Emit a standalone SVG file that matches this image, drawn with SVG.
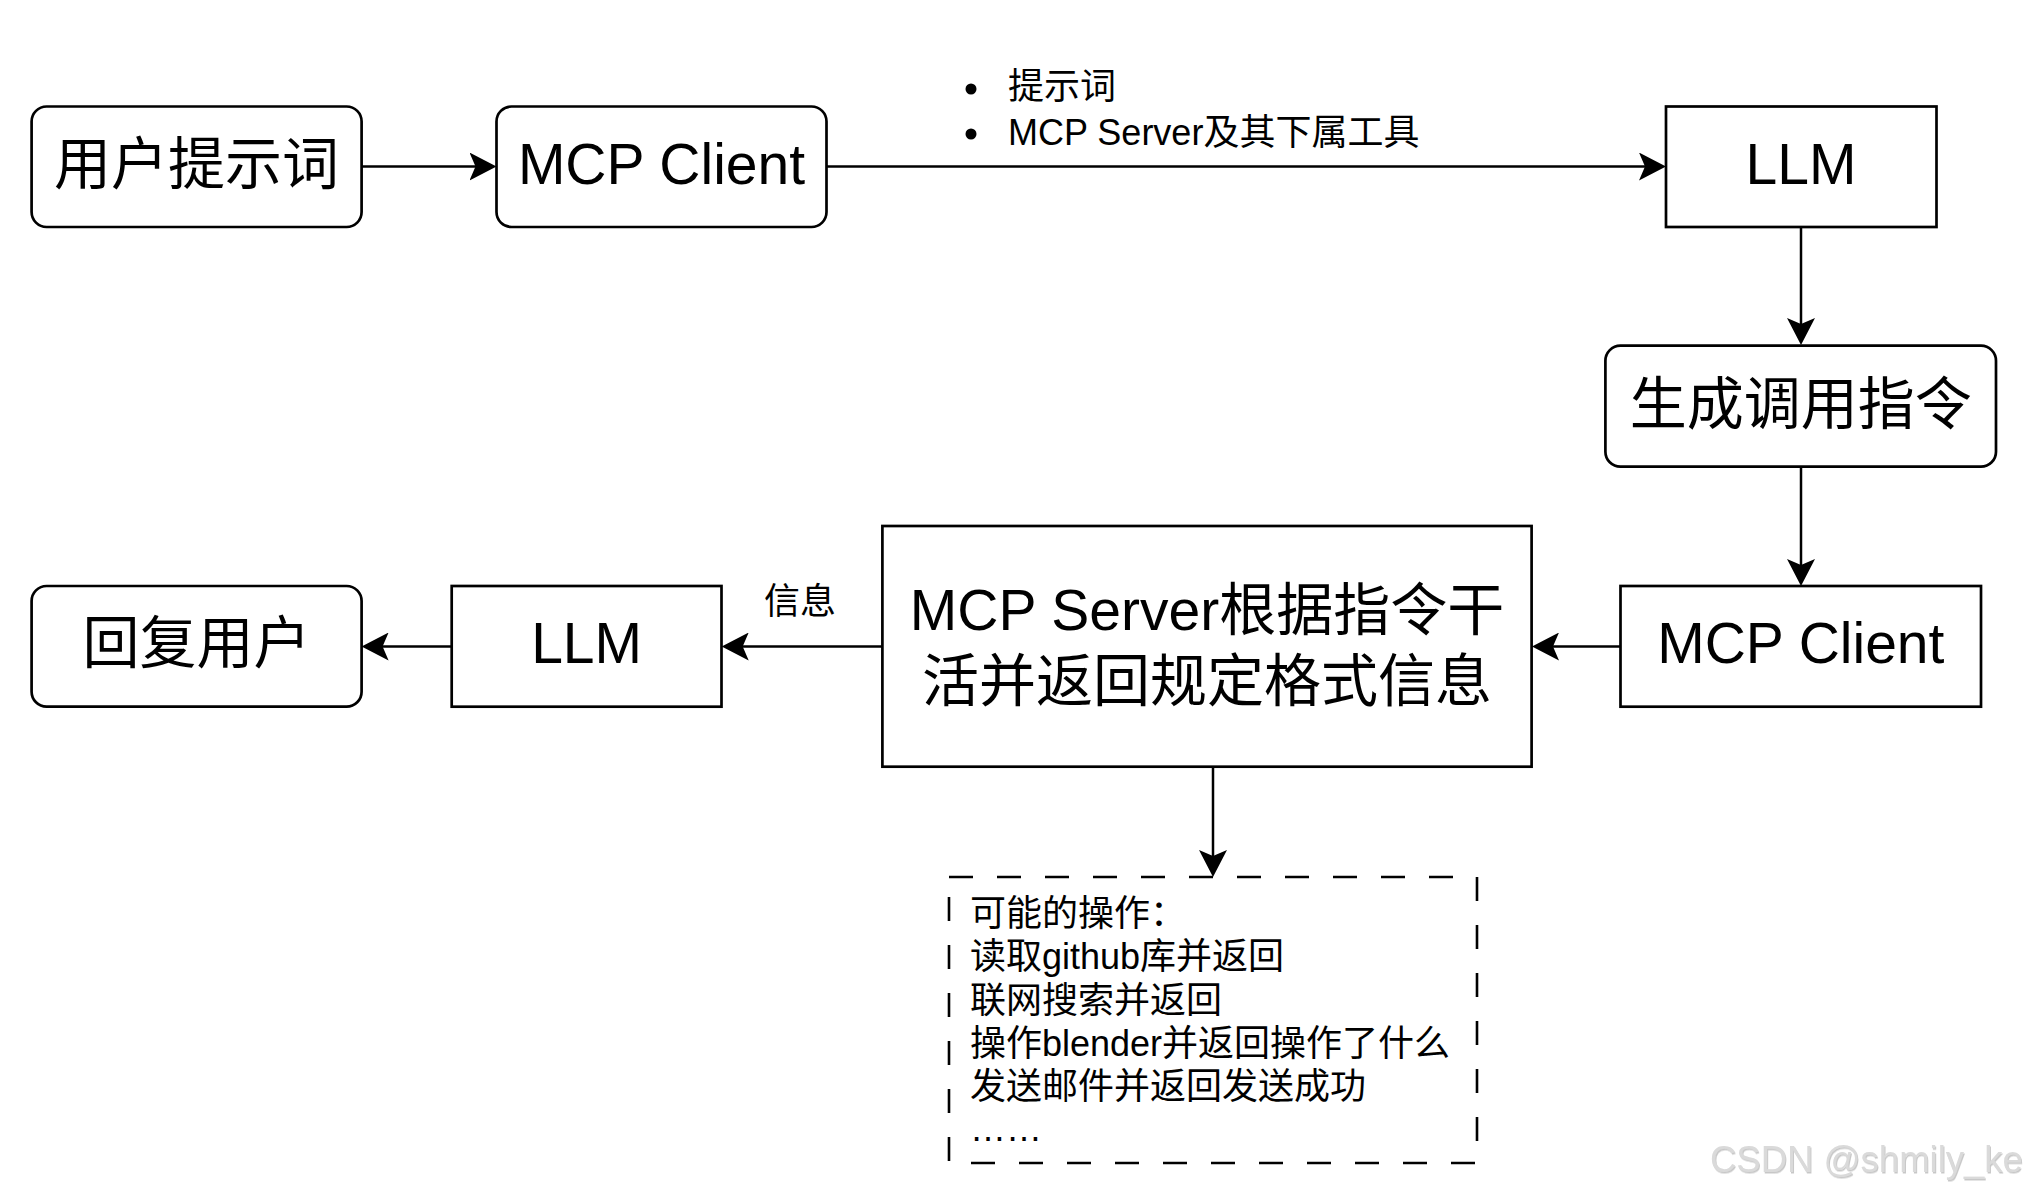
<svg xmlns="http://www.w3.org/2000/svg" width="2031" height="1194" viewBox="0 0 2031 1194">
<style>
  .box { fill: #ffffff; stroke: #000000; stroke-width: 2.7; }
  .dash { fill: none; stroke: #000000; stroke-width: 2.6; stroke-dasharray: 24 24; }
  .big { font-family: "Liberation Sans", "Noto Sans CJK SC", sans-serif; font-size: 57px; fill: #000000; text-anchor: middle; }
  .small { font-family: "Liberation Sans", "Noto Sans CJK SC", sans-serif; font-size: 36px; fill: #000000; }
  .mid { font-family: "Liberation Sans", "Noto Sans CJK SC", sans-serif; font-size: 36px; fill: #000000; }
  .edge { fill: none; stroke: #000000; stroke-width: 2.5; marker-end: url(#arrow); }
  .wm { font-family: "Liberation Sans", "Noto Sans", sans-serif; font-size: 36.5px; fill: #dadada; }
</style>
<defs>
  <marker id="arrow" markerUnits="userSpaceOnUse" markerWidth="28" markerHeight="28" viewBox="0 0 28 28" refX="7" refY="14" orient="auto">
    <path d="M0,0 L27,14 L0,28 L6,14 Z" fill="#000000"/>
  </marker>
  <filter id="emb" x="-5%" y="-20%" width="110%" height="150%">
    <feDropShadow dx="1" dy="1.5" stdDeviation="0.6" flood-color="#9a9a9a" flood-opacity="0.55"/>
  </filter>
</defs>
<rect width="2031" height="1194" fill="#ffffff"/>

<g id="connectors">
  <line class="edge" x1="361.6" y1="166.5" x2="476.5" y2="166.5"/>
  <line class="edge" x1="826.5" y1="166.5" x2="1646" y2="166.5"/>
  <line class="edge" x1="1801" y1="227" x2="1801" y2="325"/>
  <line class="edge" x1="1801" y1="467" x2="1801" y2="566"/>
  <line class="edge" x1="1620.5" y1="646.5" x2="1552" y2="646.5"/>
  <line class="edge" x1="882.4" y1="646.5" x2="741.7" y2="646.5"/>
  <line class="edge" x1="451.7" y1="646.5" x2="381.6" y2="646.5"/>
  <line class="edge" x1="1213" y1="767" x2="1213" y2="857"/>
  <g id="edge-label-info">
    <text class="small" x="800" y="614" text-anchor="middle">信息</text>
  </g>
  <g id="edge-label-bullets">
    <circle cx="971" cy="89" r="5.5" fill="#000000"/>
    <text class="mid" x="1008" y="99">提示词</text>
    <circle cx="971" cy="134" r="5.5" fill="#000000"/>
    <text class="mid" x="1008" y="145">MCP Server及其下属工具</text>
  </g>
</g>

<g id="node-user-prompt">
  <rect class="box" x="31.6" y="106.5" width="330" height="120.5" rx="15" ry="15"/>
  <text class="big" x="196.6" y="184">用户提示词</text>
</g>
<g id="node-mcp-client-1">
  <rect class="box" x="496.5" y="106.5" width="330" height="120.5" rx="15" ry="15"/>
  <text class="big" x="661.5" y="184">MCP Client</text>
</g>
<g id="node-llm-1">
  <rect class="box" x="1666" y="106.5" width="270.5" height="120.5"/>
  <text class="big" x="1801" y="184">LLM</text>
</g>
<g id="node-generate">
  <rect class="box" x="1605.4" y="345.7" width="390.6" height="121" rx="15" ry="15"/>
  <text class="big" x="1800.7" y="424">生成调用指令</text>
</g>
<g id="node-mcp-client-2">
  <rect class="box" x="1620.5" y="586" width="360.5" height="120.7"/>
  <text class="big" x="1800.8" y="663">MCP Client</text>
</g>
<g id="node-mcp-server">
  <rect class="box" x="882.4" y="526" width="649.2" height="240.7"/>
  <text class="big" x="1207" y="630">MCP Server根据指令干</text>
  <text class="big" x="1207" y="701">活并返回规定格式信息</text>
</g>
<g id="node-llm-2">
  <rect class="box" x="451.7" y="586" width="269.8" height="120.7"/>
  <text class="big" x="586.6" y="663">LLM</text>
</g>
<g id="node-reply-user">
  <rect class="box" x="31.6" y="586" width="330" height="120.7" rx="15" ry="15"/>
  <text class="big" x="196.6" y="663">回复用户</text>
</g>
<g id="node-operations">
  <rect class="dash" x="949" y="877" width="528" height="286"/>
  <text class="small" x="970" y="926">可能的操作：</text>
  <text class="small" x="970" y="969.3">读取github库并返回</text>
  <text class="small" x="970" y="1012.6">联网搜索并返回</text>
  <text class="small" x="970" y="1056">操作blender并返回操作了什么</text>
  <text class="small" x="970" y="1099.2">发送邮件并返回发送成功</text>
  <text class="small" x="970" y="1141">……</text>
</g>

<text class="wm" x="1710" y="1172" filter="url(#emb)">CSDN @shmily_ke</text>
</svg>
